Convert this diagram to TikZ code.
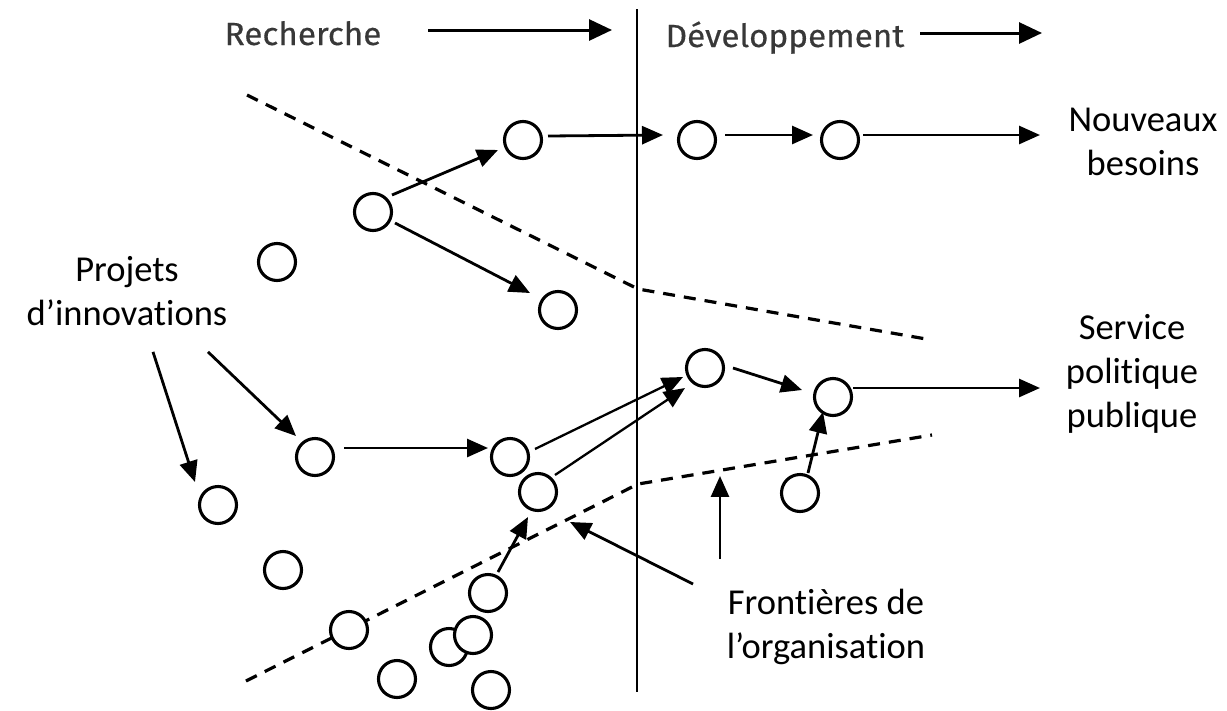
\documentclass[tikz,border=0pt]{standalone}
\usepackage{graphicx}
\usepackage{fontspec}
\setmainfont{Carlito}[Ligatures=NoCommon]
\newfontfamily\toplab{Fira Sans}[FakeBold=0.4]
\usetikzlibrary{arrows.meta,calc}
\begin{document}
\begin{tikzpicture}[x=1pt,y=-1pt,
  circ/.style={circle,draw,line width=3.1pt,minimum size=37pt,inner sep=0pt,outer sep=0pt,fill=white},
  arr/.style={line width=2.8pt,-{Triangle[length=21pt,width=18pt]}},
  bigarr/.style={line width=3pt,-{Triangle[length=23pt,width=21pt]}},
  bound/.style={line width=3.2pt,dash pattern=on 12pt off 9pt},
  lab/.style={font=\fontsize{36.5}{44}\selectfont,align=center,inner sep=0pt},
  head/.style={font=\toplab\fontsize{32}{34}\selectfont,text=black!78,inner sep=0pt}]
\useasboundingbox (0,0) rectangle (1227,710);

% headers
\node[head,anchor=base] (rech) at (303,45) {\scalebox{1.04}[1]{Recherche}};
\node[head,anchor=base] (dev) at (785,47) {\scalebox{1.04}[1]{Développement}};
\coordinate (r1) at (428,30);
\coordinate (r2) at (612,30);
\coordinate (d1) at (920,33);
\coordinate (d2) at (1042,33);
\draw[bigarr] (r1) -- (r2);
\draw[bigarr] (d1) -- (d2);

% vertical divider
\coordinate (vtop) at (637,9);
\coordinate (vbot) at (637,692);
\draw[line width=2.8pt] (vtop) -- (vbot);

% organisation boundaries
\coordinate (u1) at (247,95);
\coordinate (u2) at (638,289);
\coordinate (u3) at (932,340);
\coordinate (l1) at (246,681);
\coordinate (l2) at (638,484);
\coordinate (l3) at (932,435);
\draw[bound] (u1) -- (u2) -- (u3);
\draw[bound] (l1) -- (l2) -- (l3);

% labels
\node[lab] (nb) at (1143,142) {Nouveaux\\besoins};
\node[lab] (spp) at (1132,374) {Service\\politique\\publique};
\node[lab] (proj) at (127,291) {Projets\\d’innovations};
\node[lab] (front) at (826,627) {Frontières de\\l’organisation};

% projects
\node[circ] (A) at (523,140) {};
\node[circ] (B) at (697,140) {};
\node[circ] (C) at (840,140) {};
\node[circ] (D) at (373,212) {};
\node[circ] (E) at (558,310) {};
\node[circ] (F) at (277,262) {};
\node[circ] (G) at (218,505) {};
\node[circ] (H) at (315,457) {};
\node[circ] (I) at (510,457) {};
\node[circ] (J) at (538,492) {};
\node[circ] (K) at (705,368) {};
\node[circ] (L) at (833,397) {};
\node[circ] (M) at (800,493) {};
\node[circ] (N) at (283,570) {};
\node[circ] (P) at (488,593) {};
\node[circ] (Q1) at (349,630) {};
\node[circ] (Q2) at (397,679) {};
\node[circ] (Q3) at (449,647) {};
\node[circ] (Q4) at (473,635) {};
\node[circ] (Q5) at (491,690) {};

% connectors
\draw[arr] ($(A)+(25,-4)$) -- ($(B)+(-34,-5)$);
\draw[arr] ($(B)+(28,-5)$) -- ($(C)+(-27,-5)$);
\draw[arr] ($(C)+(23,-5)$) -- ($(C)+(200,-5)$);
\draw[arr] ($(D)+(19,-17)$) -- ($(A)+(-25,10)$);
\draw[arr] ($(D)+(22,11)$) -- ($(E)+(-28,-17)$);
\draw[arr] ($(proj.south)+(26,26)$) -- ($(G)+(-23,-23)$);
\draw[arr] ($(proj.south)+(81,26)$) -- ($(H)+(-19,-21)$);
\draw[arr] ($(H)+(29,-9)$) -- ($(I)+(-22,-9)$);
\draw[arr,line width=2.3pt] ($(I)+(25,-8)$) -- ($(K)+(-22,9)$);
\draw[arr,line width=2.3pt] ($(J)+(17,-17)$) -- ($(K)+(-20,20)$);
\draw[arr] ($(K)+(28,0)$) -- ($(L)+(-31,-7)$);
\draw[arr] ($(L)+(20,-9)$) -- ($(L)+(207,-9)$);
\draw[arr] ($(M)+(8,-20)$) -- ($(L)+(-10,15)$);
\draw[arr] ($(P)+(10,-21)$) -- ($(J)+(-10,25)$);
\draw[arr] ($(front.north)+(-106,-30)$) -- ($(front.north)+(-106,-113)$);
\draw[arr] ($(front.north)+(-133,-5)$) -- ($(front.north)+(-256,-67)$);
\end{tikzpicture}
\end{document}
